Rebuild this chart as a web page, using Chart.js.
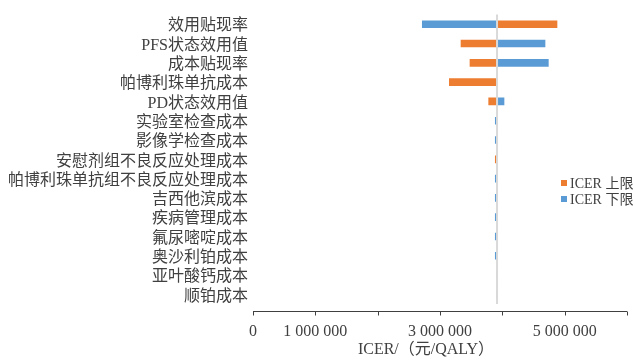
<!DOCTYPE html>
<html>
<head>
<meta charset="utf-8">
<script src="https://cdn.jsdelivr.net/npm/chart.js@4"></script>
<style>
  html, body { margin: 0; padding: 0; background: #ffffff; }
  #wrap { width: 633px; height: 362px; }
</style>
</head>
<body>
<div id="wrap"><canvas id="c" width="633" height="362"></canvas></div>
<script>
// One-way sensitivity analysis (tornado diagram)
const CATEGORIES = [
  '效用贴现率', 'PFS状态效用值', '成本贴现率', '帕博利珠单抗成本', 'PD状态效用值',
  '实验室检查成本', '影像学检查成本', '安慰剂组不良反应处理成本',
  '帕博利珠单抗组不良反应处理成本', '吉西他滨成本', '疾病管理成本',
  '氟尿嘧啶成本', '奥沙利铂成本', '亚叶酸钙成本', '顺铂成本'
];
const BASE_ICER = 3915000;
const ICER_UPPER = [4877000, 3337000, 3481000, 3150000, 3781000, 3915000, 3915000, 3887000,
                    3915000, 3915000, 3915000, 3915000, 3915000, 3915000, 3915000];
const ICER_LOWER = [2716000, 4685000, 4738000, 3915000, 4027000, 3887000, 3887000, 3915000,
                    3887000, 3887000, 3887000, 3887000, 3887000, 3915000, 3915000];
const SERIES_NAMES = ['ICER 上限', 'ICER 下限'];
const SERIES_COLORS = ['#ED7D31', '#5B9BD5'];
const X_TICK_LABELS = ['0', '1 000 000', '', '3 000 000', '', '5 000 000', ''];
const X_TITLE = 'ICER/（元/QALY）';

const SERIF = '"Liberation Serif", "Noto Sans CJK SC", serif';
const TEXT = '#404040';

// Base-case line, bottom axis with tick marks, axis title and legend
const decorations = {
  id: 'decorations',
  afterDatasetsDraw(chart) {
    const ctx = chart.ctx;
    const xs = chart.scales.x;
    const area = chart.chartArea;
    ctx.save();
    // base-case ICER
    const bx = xs.getPixelForValue(BASE_ICER);
    ctx.strokeStyle = '#D9D9D9';
    ctx.lineWidth = 2;
    ctx.beginPath();
    ctx.moveTo(bx, area.top);
    ctx.lineTo(bx, area.bottom);
    ctx.stroke();

    // value axis line and tick marks
    const ay = area.bottom + 7.5;
    ctx.strokeStyle = '#404040';
    ctx.lineWidth = 1;
    ctx.beginPath();
    ctx.moveTo(area.left, ay);
    ctx.lineTo(area.right, ay);
    xs.ticks.forEach(t => {
      const px = Math.round(xs.getPixelForValue(t.value)) + 0.5;
      ctx.moveTo(px, ay);
      ctx.lineTo(px, ay + 4);
    });
    ctx.stroke();

    // axis title
    ctx.fillStyle = TEXT;
    ctx.font = '16px ' + SERIF;
    ctx.textAlign = 'center';
    ctx.textBaseline = 'alphabetic';
    ctx.fillText(X_TITLE, (area.left + area.right) / 2 - 14, 354);

    // legend
    ctx.font = '14px ' + SERIF;
    ctx.textAlign = 'left';
    chart.data.datasets.forEach((ds, i) => {
      const y = 180 + i * 16;
      ctx.fillStyle = ds.backgroundColor;
      ctx.fillRect(561, y, 6, 6);
      ctx.fillStyle = TEXT;
      ctx.fillText(ds.label, 570, y + 8);
    });
    ctx.restore();
  }
};

new Chart(document.getElementById('c'), {
  type: 'bar',
  data: {
    labels: CATEGORIES,
    datasets: [
      {
        label: SERIES_NAMES[0],
        data: ICER_UPPER.map(v => [BASE_ICER, v]),
        backgroundColor: SERIES_COLORS[0],
        grouped: false,
        barThickness: 7,
        borderWidth: 0
      },
      {
        label: SERIES_NAMES[1],
        data: ICER_LOWER.map(v => [BASE_ICER, v]),
        backgroundColor: SERIES_COLORS[1],
        grouped: false,
        barThickness: 7,
        borderWidth: 0
      }
    ]
  },
  options: {
    indexAxis: 'y',
    responsive: false,
    animation: false,
    layout: { padding: { top: 14, right: 6, left: 0, bottom: 0 } },
    plugins: { legend: { display: false }, tooltip: { enabled: false } },
    scales: {
      x: {
        type: 'linear',
        min: 0,
        max: 6000000,
        grid: { display: false, drawTicks: false },
        border: { display: false },
        ticks: {
          stepSize: 1000000,
          padding: 18,
          color: TEXT,
          font: { size: 16, family: SERIF },
          maxRotation: 0,
          autoSkip: false,
          callback: (v, i) => X_TICK_LABELS[i] ?? ''
        },
        afterFit: s => { s.height = 58; s.paddingLeft = 0; s.paddingRight = 0; }
      },
      y: {
        grid: { display: false, drawTicks: false },
        border: { display: false },
        ticks: {
          padding: 5,
          labelOffset: 2,
          color: TEXT,
          autoSkip: false,
          font: { size: 16, family: SERIF }
        },
        afterFit: s => { s.width = 253; }
      }
    }
  },
  plugins: [decorations]
});
</script>
</body>
</html>
